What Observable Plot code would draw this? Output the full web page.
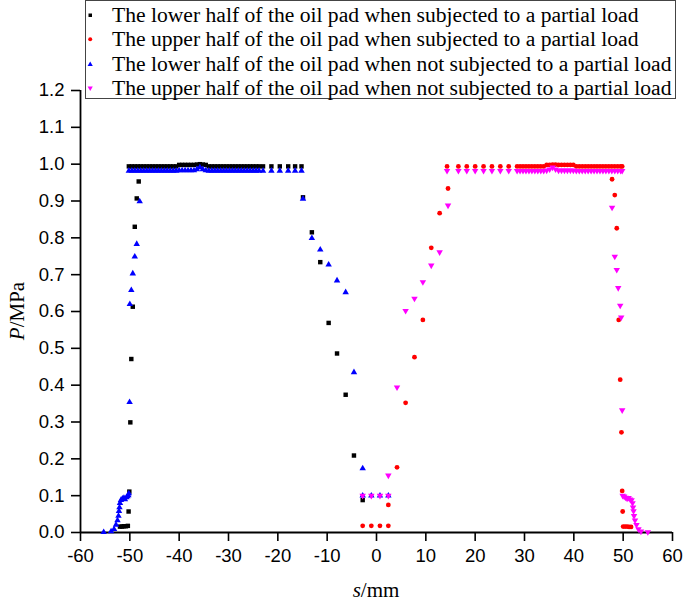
<!DOCTYPE html>
<html><head><meta charset="utf-8">
<script src="https://cdn.jsdelivr.net/npm/d3@7"></script>
<script src="https://cdn.jsdelivr.net/npm/@observablehq/plot@0.6"></script>
<style>
body{margin:0;background:#fff;}
#wrap{position:relative;width:685px;height:604px;}
#legend{position:absolute;left:85px;top:0px;width:591px;height:99px;border:1px solid #444;box-sizing:border-box;background:#fff;font-family:"Liberation Serif","Times New Roman",serif;font-size:21.6px;color:#000;}
.row{position:absolute;left:0;height:24px;line-height:24px;white-space:nowrap;}
.row svg{position:absolute;left:0;top:7px;}
.row span{position:absolute;left:26px;top:0;}
</style></head>
<body><div id="wrap"></div>
<script>
const seriesNames = [
  "The lower half of the oil pad when subjected to a partial load",
  "The upper half of the oil pad when subjected to a partial load",
  "The lower half of the oil pad when not subjected to a partial load",
  "The upper half of the oil pad when not subjected to a partial load"
];
const seriesColors = ["#000000", "#ff0000", "#0000ff", "#ff00ff"];
const xTicks = [-60,-50,-40,-30,-20,-10,0,10,20,30,40,50,60];
const yTicks = [0,0.1,0.2,0.3,0.4,0.5,0.6,0.7,0.8,0.9,1.0,1.1,1.2];

// shared plateau positions
const leftPlateauS = [-50.2,-49.6,-49.0,-48.4,-47.8,-47.2,-46.6,-46.0,-45.4,-44.8,-44.2,-43.6,-43.0,-42.4,-41.8,-41.2,-40.6,
  -40.0,-39.4,-38.8,-38.2,-37.6,-37.0,-36.4,-35.8,-35.2,-34.6,
  -34.0,-33.4,-32.8,-32.2,-31.6,-31.0,-30.4,-29.8,-29.2,-28.6,-28.0,-27.4,-26.8,-26.2,-25.6,-25.0,-24.4,-23.8,-23.0,-21.3,-19.6,-17.9,-16.5,-15.2];
const rightPlateauS = [14.3,16.6,18.3,20.0,21.7,23.4,25.1,26.8,28.5,29.1,29.7,30.3,30.9,31.5,32.1,32.7,33.3,33.9,
  34.5,35.1,35.7,36.3,36.9,37.5,38.1,38.7,39.3,39.9,
  40.5,41.1,41.7,42.3,42.9,43.5,44.1,44.7,45.3,45.9,46.5,47.1,47.7,48.3,48.9,49.5,49.8];

// black: lower half, partial load
const blackEdgeS = [-52.0,-51.6,-51.2,-50.8,-50.4,-50.25,-50.1,-49.9,-49.7,-49.4,-49.0,-48.6,-48.2];
const blackEdgeP = [0.016,0.016,0.017,0.017,0.018,0.057,0.111,0.299,0.471,0.613,0.830,0.907,0.953];
const blackPlateauP = [0.994,0.994,0.994,0.994,0.994,0.994,0.994,0.994,0.994,0.994,0.994,0.994,0.994,0.994,0.994,0.994,0.994,
  0.998,0.998,0.998,0.998,0.998,0.998,0.999,1.000,0.999,0.998,
  0.994,0.994,0.994,0.994,0.994,0.994,0.994,0.994,0.994,0.994,0.994,0.994,0.994,0.994,0.994,0.994,0.994,0.994,0.994,0.994,0.994,0.994,0.994,0.994];
const blackSlopeS = [-14.9,-13.1,-11.4,-9.7,-8.0,-6.25,-4.57,-2.8];
const blackSlopeP = [0.910,0.815,0.734,0.569,0.486,0.374,0.209,0.088];

// red: upper half, partial load
const redSlopeS = [-2.8,-1.05,0.7,2.4,2.4,4.16,5.9,7.7,9.4,11.1,12.8,14.5];
const redSlopeP = [0.018,0.018,0.018,0.018,0.075,0.177,0.352,0.476,0.577,0.773,0.867,0.934];
const redPlateauP = [0.994,0.994,0.994,0.994,0.994,0.994,0.994,0.994,0.994,0.994,0.994,0.994,0.994,0.994,0.994,0.994,0.994,0.994,
  0.998,0.998,0.999,0.999,0.998,0.998,0.998,0.998,0.998,0.998,
  0.994,0.994,0.994,0.994,0.994,0.994,0.994,0.994,0.994,0.994,0.994,0.994,0.994,0.994,0.994,0.994,0.994];
const redEdgeS = [47.75,48.3,48.7,49.1,49.4,49.65,49.8,49.9,50.0,50.4,50.8,51.2,51.6];
const redEdgeP = [0.959,0.916,0.826,0.577,0.415,0.272,0.113,0.057,0.016,0.016,0.016,0.015,0.015];

// blue: lower half, no partial load
const blueEdgeS = [-55.3,-53.8,-53.2,-52.8,-52.5,-52.3,-52.2,-52.1,-52.0,-51.8,-51.5,-51.2,-51.0,-50.7,-50.5,-50.3,-50.2,-50.05,-50.0,-49.7,-49.4,-49.0,-48.6,-48.0];
const blueEdgeP = [0.001,0.003,0.009,0.021,0.033,0.045,0.058,0.068,0.080,0.088,0.092,0.094,0.090,0.095,0.098,0.101,0.106,0.354,0.620,0.658,0.703,0.749,0.783,0.899];
const bluePlateauP = [0.982,0.982,0.982,0.982,0.982,0.982,0.982,0.982,0.982,0.982,0.982,0.982,0.982,0.982,0.982,0.982,0.982,
  0.983,0.983,0.983,0.983,0.983,0.983,0.986,0.991,0.986,0.983,
  0.982,0.982,0.982,0.982,0.982,0.982,0.982,0.982,0.982,0.982,0.982,0.982,0.982,0.982,0.982,0.982,0.982,0.982,0.982,0.982,0.982,0.982,0.982,0.982];
const blueSlopeS = [-14.9,-13.1,-11.4,-9.7,-8.0,-6.25,-4.57,-2.8,-2.8,-1.05,0.7,2.4];
const blueSlopeP = [0.906,0.799,0.768,0.727,0.684,0.652,0.435,0.174,0.100,0.100,0.100,0.100];

// magenta: upper half, no partial load
const magSlopeS = [-2.8,-1.05,0.7,2.4,2.4,4.16,5.9,7.7,9.4,11.1,12.8,14.5];
const magSlopeP = [0.100,0.100,0.100,0.100,0.155,0.394,0.602,0.635,0.680,0.725,0.761,0.888];
const magPlateauP = [0.982,0.982,0.982,0.982,0.982,0.982,0.982,0.982,0.982,0.982,0.982,0.982,0.982,0.982,0.982,0.982,0.982,0.982,
  0.983,0.986,0.991,0.986,0.983,0.983,0.983,0.983,0.983,0.983,
  0.982,0.982,0.982,0.982,0.982,0.982,0.982,0.982,0.982,0.982,0.982,0.982,0.982,0.982,0.982,0.982,0.982];
const magEdgeS = [47.75,48.3,48.7,49.0,49.4,49.6,49.8,49.9,50.2,50.5,50.8,51.1,51.4,51.7,51.9,52.0,52.1,52.2,52.4,52.7,53.1,53.6,55.0];
const magEdgeP = [0.882,0.749,0.713,0.664,0.616,0.584,0.332,0.100,0.098,0.095,0.092,0.094,0.090,0.088,0.080,0.068,0.058,0.045,0.033,0.021,0.009,0.003,0.001];

const zipSP = (S, P) => S.map((s, i) => ({s, p: P[i]}));
const blackData = [...zipSP(blackEdgeS, blackEdgeP), ...zipSP(leftPlateauS, blackPlateauP), ...zipSP(blackSlopeS, blackSlopeP)];
const redData = [...zipSP(redSlopeS, redSlopeP), ...zipSP(rightPlateauS, redPlateauP), ...zipSP(redEdgeS, redEdgeP)];
const blueData = [...zipSP(blueEdgeS, blueEdgeP), ...zipSP(leftPlateauS, bluePlateauP), ...zipSP(blueSlopeS, blueSlopeP)];
const magData = [...zipSP(magSlopeS, magSlopeP), ...zipSP(rightPlateauS, magPlateauP), ...zipSP(magEdgeS, magEdgeP)];

const sqrt3 = Math.sqrt(3);
const triangleDown = {
  draw(context, size) {
    const y = Math.sqrt(size / (sqrt3 * 3));
    context.moveTo(0, y * 2);
    context.lineTo(-sqrt3 * y, -y);
    context.lineTo(sqrt3 * y, -y);
    context.closePath();
  }
};

const chart = Plot.plot({
  width: 685, height: 604,
  marginLeft: 80, marginRight: 13, marginTop: 90, marginBottom: 72,
  style: {fontFamily: "'Liberation Sans', Arial, sans-serif", fontSize: "18.5px", color: "#000", background: "#fff"},
  x: {domain: [-60, 60]},
  y: {domain: [0, 1.2]},
  marks: [
    Plot.axisX({ticks: xTicks, tickSize: 9, tickPadding: 7, strokeWidth: 1.6, tickFormat: d => String(d), label: null, fontSize: 18.5}),
    Plot.axisY({ticks: yTicks, tickSize: 9, tickPadding: 7, strokeWidth: 1.6, tickFormat: d => d.toFixed(1), label: null, fontSize: 18.5}),
    Plot.ruleX([-60], {strokeWidth: 1.8}),
    Plot.ruleY([0], {strokeWidth: 1.8}),
    Plot.dot(blackData, {x: "s", y: "p", symbol: "square", r: 2.5, fill: seriesColors[0], stroke: "none"}),
    Plot.dot(redData, {x: "s", y: "p", symbol: "circle", r: 2.4, fill: seriesColors[1], stroke: "none"}),
    Plot.dot(blueData, {x: "s", y: "p", symbol: "triangle", r: 2.4, fill: seriesColors[2], stroke: "none"}),
    Plot.dot(magData, {x: "s", y: "p", symbol: triangleDown, r: 2.4, fill: seriesColors[3], stroke: "none"})
  ]
});

const svg = d3.select(chart);
const yl = svg.append("text").attr("transform", "translate(24,311) rotate(-90)")
  .attr("text-anchor", "middle").attr("font-family", "'Liberation Serif', 'Times New Roman', serif").attr("font-size", 21).attr("fill", "#000");
yl.append("tspan").attr("font-style", "italic").text("P");
yl.append("tspan").text("/MPa");
const xl = svg.append("text").attr("x", 376).attr("y", 597)
  .attr("text-anchor", "middle").attr("font-family", "'Liberation Serif', 'Times New Roman', serif").attr("font-size", 21).attr("fill", "#000");
xl.append("tspan").attr("font-style", "italic").text("s");
xl.append("tspan").text("/mm");

const wrap = document.getElementById("wrap");
wrap.appendChild(chart);

// legend
const legend = document.createElement("div");
legend.id = "legend";
const markerSvgs = [
  '<svg width="12" height="10"><rect x="2.5" y="3.5" width="3.5" height="3.5" fill="#000"/></svg>',
  '<svg width="12" height="10"><circle cx="4.2" cy="5.2" r="2" fill="#ff0000"/></svg>',
  '<svg width="12" height="10"><path d="M4.2,2.5L6.8,7L1.6,7Z" fill="#0000ff"/></svg>',
  '<svg width="12" height="10"><path d="M4.2,8L6.8,3.5L1.6,3.5Z" fill="#ff00ff"/></svg>'
];
seriesNames.forEach((name, i) => {
  const row = document.createElement("div");
  row.className = "row";
  row.style.top = (2 + i * 24.3) + "px";
  row.innerHTML = markerSvgs[i] + "<span></span>";
  row.querySelector("span").textContent = name;
  legend.appendChild(row);
});
wrap.appendChild(legend);
</script>
</body></html>
